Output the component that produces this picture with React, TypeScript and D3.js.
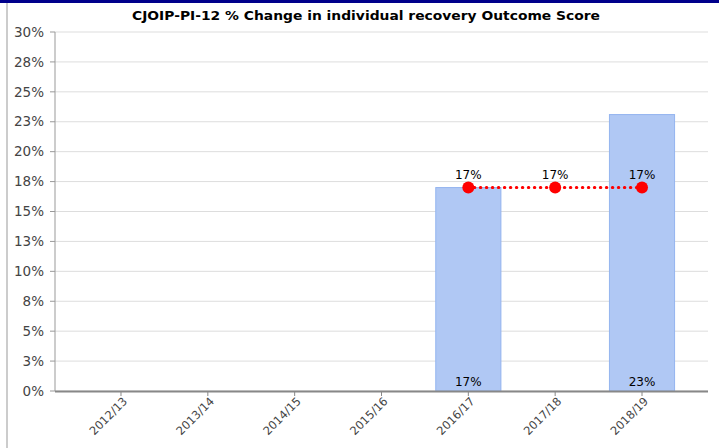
import React from "react";
import * as d3 from "d3";

const title = "CJOIP-PI-12 % Change in individual recovery Outcome Score";
const years = ["2012/13", "2013/14", "2014/15", "2015/16", "2016/17", "2017/18", "2018/19"];
const barValues: (number | null)[] = [null, null, null, null, 17.0, null, 23.1];
const lineValues: (number | null)[] = [null, null, null, null, 17.0, 17.0, 17.0];
const yTicks = [0, 2.5, 5, 7.5, 10, 12.5, 15, 17.5, 20, 22.5, 25, 27.5, 30];

const W = 719;
const H = 448;
const left = 55;
const right = 708;
const top = 32;
const bottom = 391;

export default function App() {
  const x = d3.scalePoint<string>().domain(years).range([left, right]).padding(0.76);
  const y = d3.scaleLinear().domain([0, 30]).range([bottom, top]);
  const barW = x.step() * 0.75;
  const fmt = (v: number) => `${Math.round(v)}%`;

  const linePts = years
    .map((yr, i) => ({ yr, v: lineValues[i] }))
    .filter((d) => d.v !== null) as { yr: string; v: number }[];
  const lineGen = d3
    .line<{ yr: string; v: number }>()
    .x((d) => x(d.yr)!)
    .y((d) => y(d.v));

  const font = "Tahoma, 'DejaVu Sans', sans-serif";

  return (
    <svg
      width={W}
      height={H}
      style={{ position: "absolute", left: 0, top: 0, background: "#fff" }}
      fontFamily={font}
    >
      <rect x={0} y={0} width={W} height={3} fill="#00008b" />
      <rect x={6} y={3} width={2} height={H - 3} fill="#cccccc" />
      <text
        x={366}
        y={20}
        textAnchor="middle"
        fontWeight="bold"
        fontSize={13}
        fill="#000"
        textLength={468}
        lengthAdjust="spacingAndGlyphs"
      >
        {title}
      </text>

      {/* gridlines */}
      {yTicks.map((t) => (
        <line key={"g" + t} x1={left} x2={right} y1={y(t)} y2={y(t)} stroke="#dddddd" strokeWidth={1} />
      ))}

      {/* bars */}
      {years.map((yr, i) =>
        barValues[i] === null ? null : (
          <g key={"b" + yr}>
            <rect
              x={x(yr)! - barW / 2}
              y={y(barValues[i] as number)}
              width={barW}
              height={y(0) - y(barValues[i] as number)}
              fill="#b0c8f4"
              stroke="#94b4ef"
              strokeWidth={1}
            />
            <text x={x(yr)!} y={bottom - 5} textAnchor="middle" fontSize={12} fill="#000">
              {fmt(barValues[i] as number)}
            </text>
          </g>
        )
      )}

      {/* y axis */}
      <line x1={left} x2={left} y1={top} y2={bottom} stroke="#999" strokeWidth={1} />
      {yTicks.map((t) => (
        <g key={"t" + t}>
          <line x1={left - 5} x2={left} y1={y(t)} y2={y(t)} stroke="#999" />
          <text x={44} y={y(t)} dy="0.35em" textAnchor="end" fontSize={13.5} fill="#444">
            {fmt(t)}
          </text>
        </g>
      ))}

      {/* x axis */}
      <line x1={left} x2={right} y1={bottom + 0.5} y2={bottom + 0.5} stroke="#888" strokeWidth={2} />
      {years.map((yr) => (
        <g key={"x" + yr}>
          <line x1={x(yr)!} x2={x(yr)!} y1={bottom} y2={bottom + 5} stroke="#888" />
          <text
            transform={`translate(${x(yr)! + 7},${bottom + 11}) rotate(-45)`}
            textAnchor="end"
            fontSize={11.5}
            fill="#444"
          >
            {yr}
          </text>
        </g>
      ))}

      {/* line */}
      <path
        d={lineGen(linePts) || ""}
        fill="none"
        stroke="#ff0000"
        strokeWidth={3}
        strokeLinecap="round"
        strokeDasharray="0.5,5.5"
      />
      {linePts.map((d) => (
        <g key={"p" + d.yr}>
          <circle cx={x(d.yr)!} cy={y(d.v)} r={6} fill="#ff0000" />
          <text x={x(d.yr)!} y={y(d.v) - 9} textAnchor="middle" fontSize={12} fill="#000">
            {fmt(d.v)}
          </text>
        </g>
      ))}
    </svg>
  );
}
